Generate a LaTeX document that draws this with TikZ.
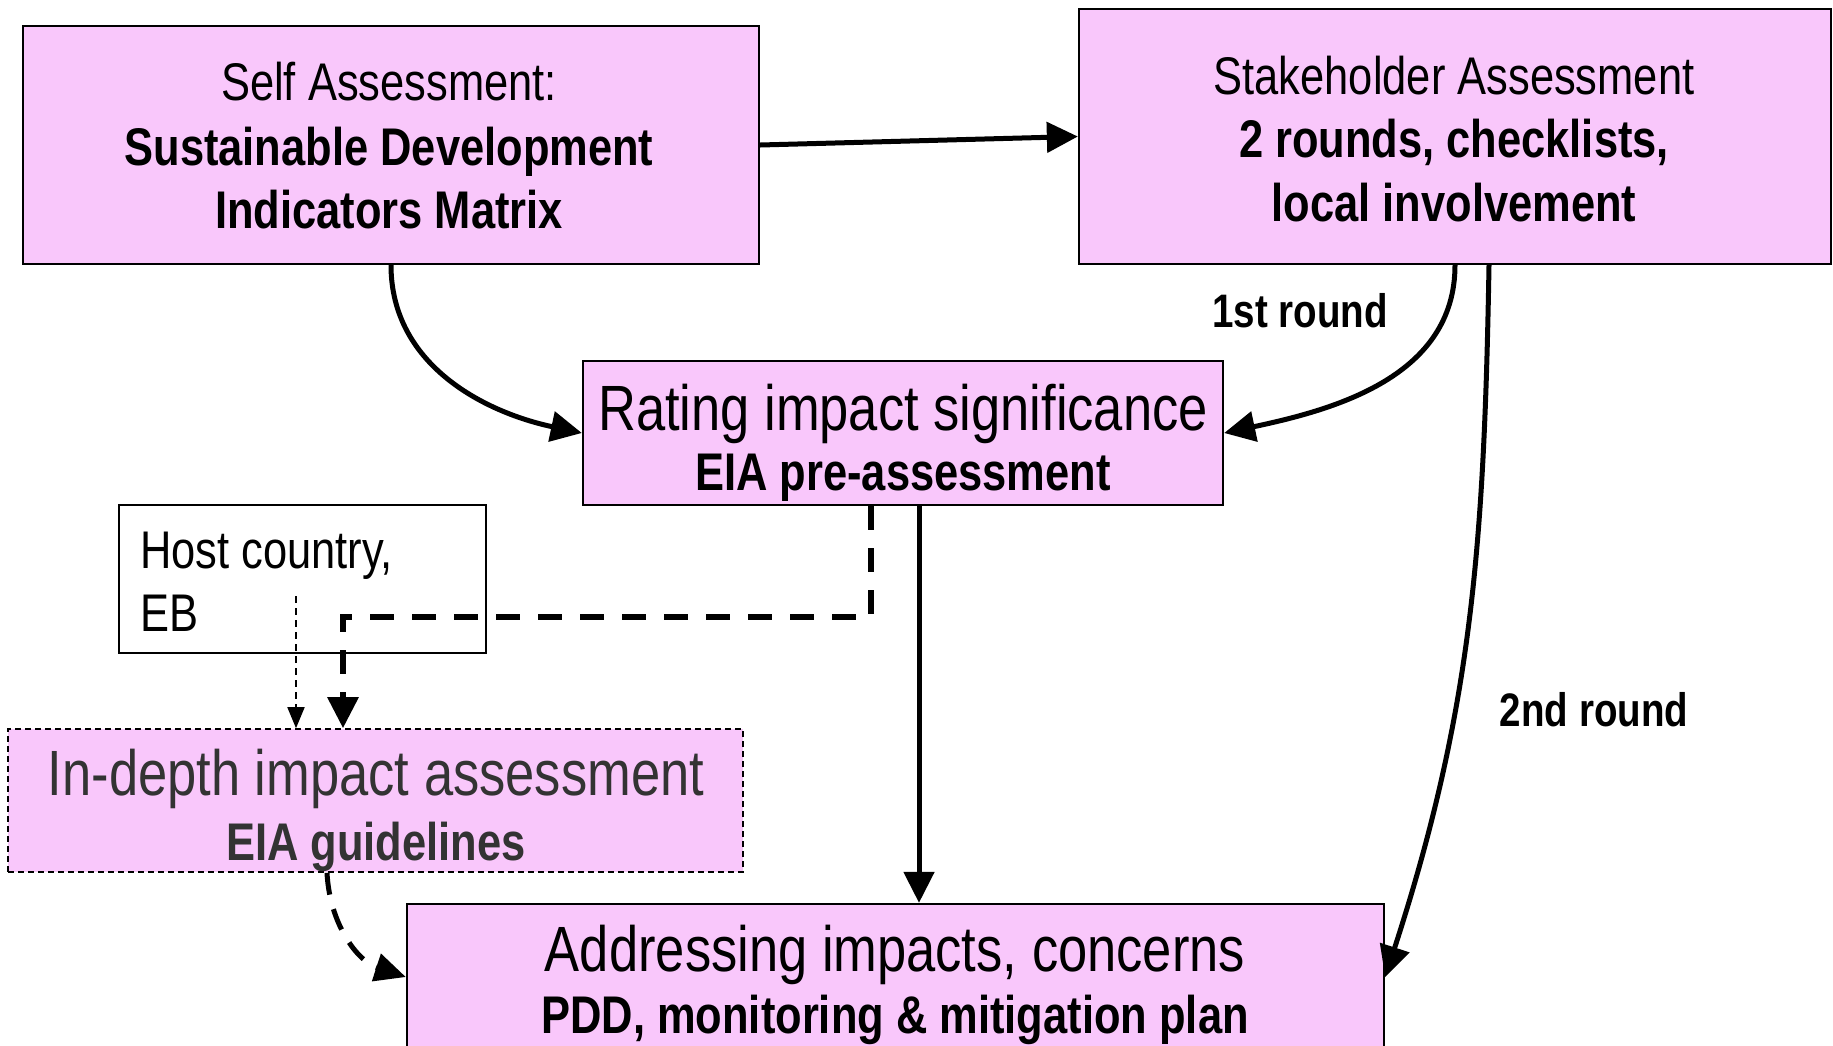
\documentclass[tikz,border=0pt]{standalone}
\usepackage{fontspec}
\setmainfont{Liberation Sans}[FakeStretch=0.82]
\usetikzlibrary{arrows.meta}
\definecolor{boxpink}{RGB}{249,199,251}
\definecolor{darktext}{RGB}{51,51,51}
\begin{document}
\begin{tikzpicture}[x=1pt,y=-1pt,
  pbox/.style={rectangle, draw=black, line width=2.3pt, fill=boxpink, inner sep=0pt},
  wbox/.style={rectangle, draw=black, line width=2pt, fill=white, inner sep=0pt},
  dbox/.style={rectangle, draw=black, line width=1.6pt, dash pattern=on 6pt off 4pt, fill=boxpink, inner sep=0pt},
  tx/.style={inner sep=0pt, anchor=base, font=\fontsize{53}{60}\selectfont},
  txb/.style={inner sep=0pt, anchor=base, font=\fontsize{53}{60}\selectfont\bfseries},
  txbig/.style={inner sep=0pt, anchor=base, font=\fontsize{64}{70}\selectfont},
  lbl/.style={inner sep=0pt, anchor=base, font=\fontsize{47}{54}\selectfont\bfseries},
  conn/.style={line width=5pt, -{Triangle[length=31pt,width=30pt]}},
  dashconn/.style={line width=6pt, dash pattern=on 24pt off 18pt, -{Triangle[length=31pt,width=30pt]}},
  dashcurve/.style={line width=5pt, dash pattern=on 22pt off 15pt, -{Triangle[length=31pt,width=28pt]}},
  thinconn/.style={line width=1.8pt, dash pattern=on 7pt off 5pt, -{Triangle[length=21pt,width=17pt]}}
]
\useasboundingbox (0,0) rectangle (1833,1045);
\fill[white] (0,0) rectangle (1833,1045);

% boxes
\node[pbox, minimum width=736pt, minimum height=238pt] (self) at (391,145) {};
\node[pbox, minimum width=752pt, minimum height=255pt] (stake) at (1455,136.5) {};
\node[pbox, minimum width=640pt, minimum height=144pt] (rating) at (903,433) {};
\node[wbox, minimum width=367pt, minimum height=148pt] (host) at (302.5,579) {};
\node[dbox, minimum width=735pt, minimum height=143pt] (indepth) at (375.5,800.5) {};
\node[pbox, minimum width=977pt, minimum height=146pt] (addr) at (895.5,977) {};

% texts
\node[tx]  (s1) at (389,100.5) {Self Assessment:};
\node[txb] (s2) at (389,165.5) {Sustainable Development};
\node[txb] (s3) at (389,228.5) {Indicators Matrix};

\node[tx]  (k1) at (1454,94) {Stakeholder Assessment};
\node[txb] (k2) at (1454,157) {2 rounds, checklists,};
\node[txb] (k3) at (1454,221) {local involvement};

\node[txbig] (r1) at (903,430) {Rating impact significance};
\node[txb]   (r2) at (903,490.5) {EIA pre-assessment};

\node[tx, anchor=base west] (h1) at (140,568.5) {Host country,};
\node[tx, anchor=base west] (h2) at (140,631.5) {EB};

\node[txbig, text=darktext] (i1) at (376,795) {In-depth impact assessment};
\node[txb, text=darktext]   (i2) at (376,860.5) {EIA guidelines};

\node[txbig] (a1) at (895,971) {Addressing impacts, concerns};
\node[txb]   (a2) at (895,1033.5) {PDD, monitoring \& mitigation plan};

\node[lbl] (l1) at (1300,327.5) {1st round};
\node[lbl] (l2) at (1594,726.5) {2nd round};

% connectors
\draw[conn] (self.east) -- (stake.west);
\draw[conn] (self.south) to[out=-90,in=168] (rating.west);
\draw[conn] (stake.south) to[out=-90,in=12] (rating.east);

\coordinate (vx) at (919,0);
\draw[conn] (rating.south -| vx) -- (addr.north -| vx);

\coordinate (rx) at (1489,0);
\draw[conn] (stake.south -| rx) to[out=-91,in=72] (addr.east);

\coordinate (dA) at (871,617);
\coordinate (dB) at (343,617);
\draw[dashconn] (rating.south -| dA) -- (dA) -- (dB) -- (indepth.north -| dB);

\coordinate (hs) at (296,596);
\draw[thinconn] (hs) -- (indepth.north -| hs);

\coordinate (ib) at (327,0);
\draw[dashcurve] (indepth.south -| ib) to[out=-87,in=162] (addr.west);
\end{tikzpicture}
\end{document}
